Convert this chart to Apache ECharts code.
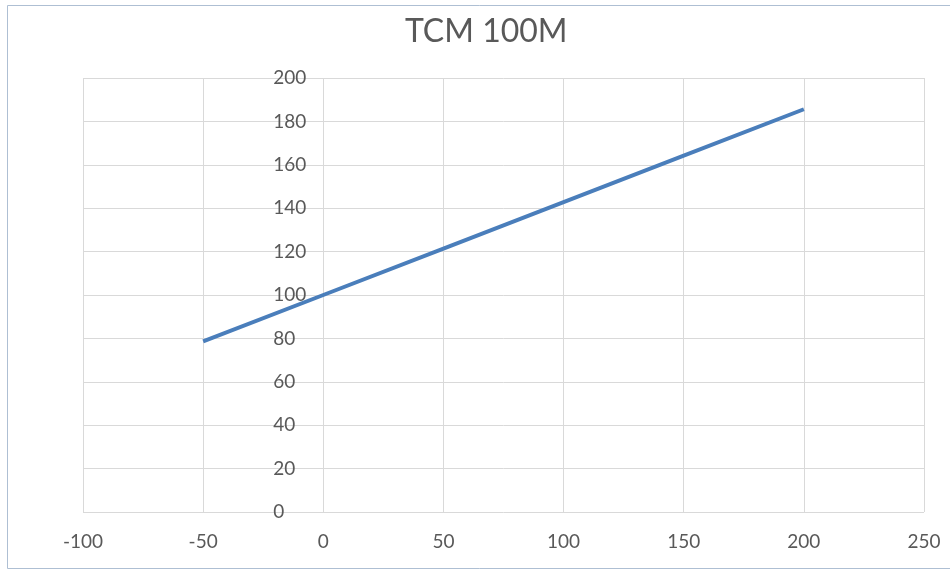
<!DOCTYPE html>
<html><head><meta charset="utf-8">
<script src="https://cdn.jsdelivr.net/npm/echarts@6/dist/echarts.min.js"></script>
<style>html,body{margin:0;padding:0;background:#fff}#c{width:950px;height:575px}</style>
</head><body><div id="c"></div>
<script>
const titleText = 'TCM 100M';
const temperatures = [-50, 0, 50, 100, 150, 200];
const resistance = [78.6, 100, 121.4, 142.8, 164.2, 185.6];

const chart = echarts.init(document.getElementById('c'));
const font = 'Lato, "Open Sans", sans-serif';
const gridLeft = 83, gridRight = 26;
const xMin = -100, xMax = 250;
// shift y axis so it crosses the x axis at 0 (like the original)
const plotW = 950 - gridLeft - gridRight;
const yAxisOffset = -plotW * (0 - xMin) / (xMax - xMin);
chart.setOption({
  animation: false,
  backgroundColor: '#ffffff',
  title: { text: titleText, left: 400, top: 11,
    textStyle: { fontFamily: font, fontSize: 32, fontWeight: 'normal', color: '#595959' } },
  graphic: [{ type: 'rect', shape: { x: 7.5, y: 5.5, width: 960, height: 563 },
    style: { fill: 'none', stroke: '#aebfd3', lineWidth: 1 }, silent: true }],
  grid: { left: gridLeft, right: gridRight, top: 78, bottom: 63 },
  xAxis: { type: 'value', min: xMin, max: xMax, interval: 50,
    axisLine: { show: false }, axisTick: { show: false },
    splitLine: { lineStyle: { color: '#d9d9d9', width: 1 } },
    axisLabel: { fontFamily: font, fontSize: 19, color: '#595959', margin: 20 } },
  yAxis: { type: 'value', min: 0, max: 200, interval: 20, offset: yAxisOffset,
    axisLine: { show: false }, axisTick: { show: false },
    splitLine: { lineStyle: { color: '#d9d9d9', width: 1 } },
    axisLabel: { fontFamily: font, fontSize: 19, color: '#595959', margin: 50, align: 'left' } },
  series: [{ type: 'line', data: temperatures.map((t, i) => [t, resistance[i]]),
    showSymbol: false, lineStyle: { color: '#4a7ebb', width: 4 }, z: 5 }]
});
</script></body></html>
